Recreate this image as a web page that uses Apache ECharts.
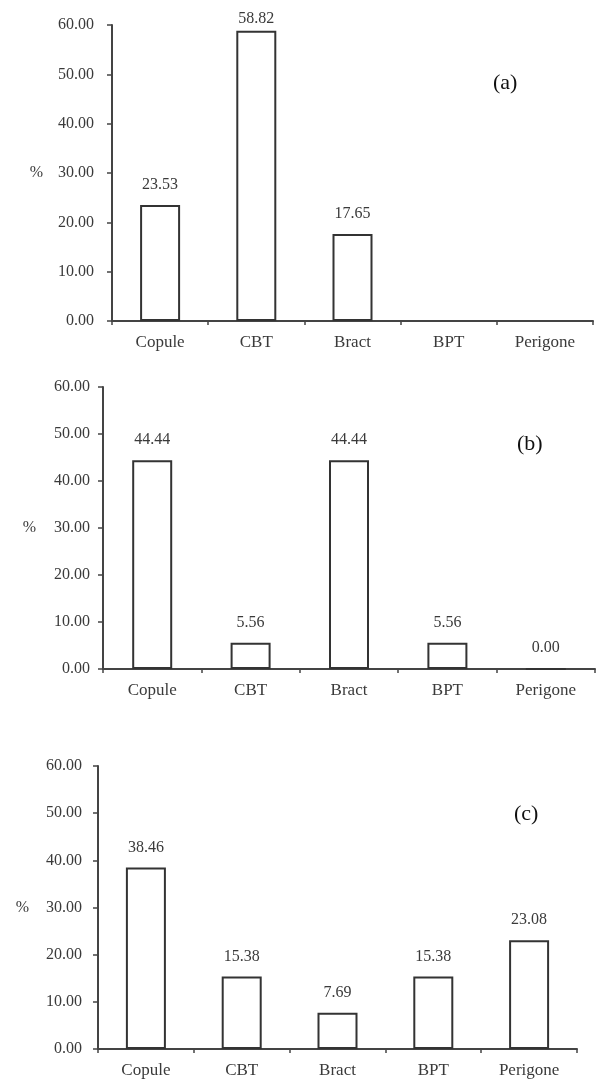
<!DOCTYPE html>
<html>
<head>
<meta charset="utf-8">
<script src="https://cdn.jsdelivr.net/npm/echarts@6/dist/echarts.min.js"></script>
<style>
html,body{margin:0;padding:0;background:#fff;}
#chart{width:597px;height:1090px;}
</style>
</head>
<body>
<div id="chart"></div>
<script>
const categories = ['Copule', 'CBT', 'Bract', 'BPT', 'Perigone'];
const valuesA = [23.53, 58.82, 17.65, null, null];
const valuesB = [44.44, 5.56, 44.44, 5.56, 0.00];
const valuesC = [38.46, 15.38, 7.69, 15.38, 23.08];
const panelLabels = ['(a)', '(b)', '(c)'];
const yMin = 0, yMax = 60, yStep = 10;
const yName = '%';

const FONT = '"Liberation Serif", "Times New Roman", serif';
const TXT = '#3a3a3a';
const AX = '#444';

const grids = [
  {left: 112, top: 25, width: 481, height: 296},
  {left: 103, top: 387, width: 492, height: 282},
  {left: 98, top: 766, width: 479, height: 283}
];
const nameGaps = [69, 67, 69];
const yLabelMargins = [18, 13, 16];
const panelPos = [
  {left: 493, top: 72},
  {left: 517, top: 433},
  {left: 514, top: 803}
];
const allValues = [valuesA, valuesB, valuesC];

function toData(vals) {
  // labels of bars reaching near the top of the axis sit closer to the bar
  return vals.map(v => (v != null && v > yMax - 5) ? {value: v, label: {distance: 4}} : v);
}

const option = {
  animation: false,
  backgroundColor: '#fff',
  textStyle: {fontFamily: FONT},
  title: panelLabels.map((t, i) => ({
    text: t, left: panelPos[i].left, top: panelPos[i].top, padding: 0,
    textStyle: {fontFamily: FONT, fontSize: 22, fontWeight: 'normal', color: '#111'}
  })),
  grid: grids.map(g => Object.assign({containLabel: false}, g)),
  xAxis: grids.map((g, i) => ({
    type: 'category', gridIndex: i, data: categories,
    boundaryGap: true,
    axisLine: {show: true, lineStyle: {color: AX, width: 2}},
    axisTick: {show: true, alignWithLabel: false, length: 4, lineStyle: {color: AX, width: 1.5}},
    axisLabel: {fontFamily: FONT, fontSize: 17, color: TXT, margin: 13}
  })),
  yAxis: grids.map((g, i) => ({
    type: 'value', gridIndex: i, min: yMin, max: yMax, interval: yStep,
    name: yName, nameLocation: 'middle', nameRotate: 0, nameGap: nameGaps[i],
    nameTextStyle: {fontFamily: FONT, fontSize: 16, color: TXT},
    splitLine: {show: false},
    axisLine: {show: true, lineStyle: {color: AX, width: 2}},
    axisTick: {show: true, inside: false, length: 5, lineStyle: {color: AX, width: 1.5}},
    axisLabel: {fontFamily: FONT, fontSize: 16, color: TXT, margin: yLabelMargins[i],
      formatter: v => v.toFixed(2)}
  })),
  series: allValues.map((vals, i) => ({
    type: 'bar', xAxisIndex: i, yAxisIndex: i, data: toData(vals),
    barWidth: 40,
    itemStyle: {color: '#fff', borderColor: '#333', borderWidth: 2},
    label: {show: true, position: 'top', distance: 12, fontFamily: FONT, fontSize: 16, color: TXT,
      formatter: p => (p.value == null ? '' : Number(p.value).toFixed(2))}
  }))
};

const chart = echarts.init(document.getElementById('chart'), null, {renderer: 'canvas'});
chart.setOption(option);
</script>
</body>
</html>
